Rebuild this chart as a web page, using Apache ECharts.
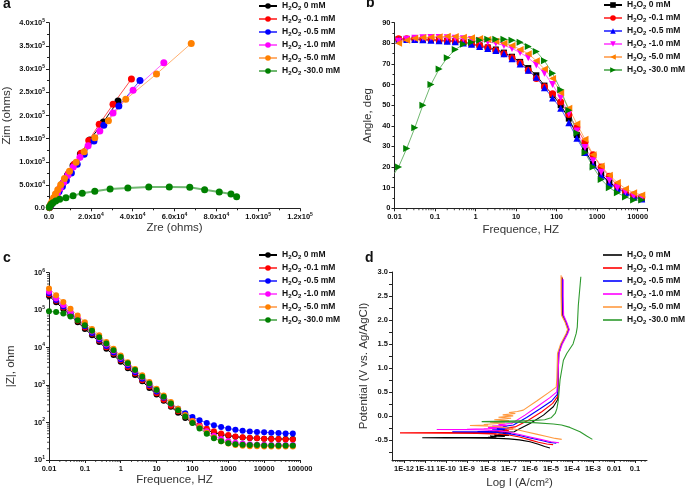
<!DOCTYPE html>
<html><head><meta charset="utf-8">
<script src="https://cdn.jsdelivr.net/npm/echarts@6/dist/echarts.min.js"></script>
<style>html,body{margin:0;padding:0;background:#fff}#c{width:685px;height:491px}</style>
</head><body><div id="c"></div>
<script>
// ---------- shared ----------
const concLabels = ['0', '-0.1', '-0.5', '-1.0', '-5.0', '-30.0'];
const markColors = ['#000000', '#FF0000', '#0000FF', '#FF00FF', '#FF8000', '#008000'];
const lineColors = ['#000000', '#FF5050', '#5050FF', '#FF66FF', '#FFB070', '#70B870'];
const tafelColors = ['#000000', '#FF0000', '#0000FF', '#FF00FF', '#FF9A40', '#2E9A2E'];

// ---------- panel a : Nyquist (Zre, Zim) ----------
const nyq0 = [[200,1500],[400,3500],[700,6000],[1000,8500],[1400,12000],[2000,17000],[2800,23000],[3800,31000],[5000,41000],[6600,54000],[8800,71000],[11500,92000],[15000,117000],[19500,147000],[26000,186000],[33000,231000]];
const nyq01 = [[300,2500],[600,5000],[1000,8500],[1500,12500],[2200,18000],[3100,25000],[4200,34000],[5500,45000],[7200,58000],[9300,75000],[12000,95000],[15300,118500],[19000,146000],[24000,181000],[30600,224000],[39400,278600]];
const nyq05 = [[400,2800],[700,5500],[1200,9000],[1800,13500],[2600,19500],[3600,27000],[4800,36000],[6400,47000],[8300,60000],[10700,76000],[13500,95000],[16800,116300],[21500,145000],[26200,178800],[33400,220400],[43500,275700]];
const nyq1 = [[400,3200],[800,6500],[1300,11000],[2000,17000],[2900,24000],[4000,33000],[5300,43000],[7000,56000],[9000,71000],[11600,89000],[14800,110000],[18700,135000],[24300,166600],[30600,205300],[40200,254200],[54900,313800]];
const nyq5 = [[200,2500],[500,5500],[900,10000],[1500,16000],[2200,23000],[3100,31000],[4200,40000],[5600,51000],[7400,64000],[9800,80000],[13000,99000],[16800,122100],[21900,152200],[28400,188800],[36700,234800],[51400,289400],[68000,355400]];
const nyq30 = [[160,2200],[500,5000],[1100,8600],[1900,12200],[3200,15800],[5100,19400],[8100,23000],[11500,27300],[15900,32300],[21900,36600],[29200,41600],[37700,43800],[47700,46000],[57500,46000],[67300,45200],[74400,40200],[81400,35200],[87000,30900],[89700,25100]];
const nyqAll = [nyq0, nyq01, nyq05, nyq1, nyq5, nyq30];

// ---------- panel b : Bode phase ----------
const freqB = [0.0126,0.02,0.0316,0.0501,0.0794,0.126,0.2,0.316,0.501,0.794,1.26,2,3.16,5.01,7.94,12.6,20,31.6,50.1,79.4,126,200,316,501,794,1260,2000,3160,5010,7940,12600];
const phase0  = [82,82,82,81.8,81.7,81.5,81.2,81,80.5,79.8,79,78,77,75.5,73.5,71,68,64.5,59.5,55,50,43.5,35.5,28,21.5,16.5,12.5,10,7.5,5.5,4.5];
const phase01 = [82.2,82.2,82.2,82,81.8,81.5,81.3,81,80.5,79.8,79,78,76.5,75,73,70.5,67,63,59,55.5,51.5,45.5,39,32,26,20,15.5,11,8,6.5,5.5];
const phase05 = [81.5,81.8,81.8,81.7,81.5,81.3,81,80.8,80.2,79.5,78.5,77.5,76.5,75,72.5,70,67,63.5,58.5,53.5,48.5,41.5,34,27,21,16,12,9.5,7.5,5.5,4.5];
const phase1  = [81,82,82.5,82.7,82.8,82.8,82.7,82.5,82.2,81.8,81.3,80.7,80,79,77.5,75.5,73,69.5,65.5,60,53.5,46,37.5,29.5,23,17.5,13.5,10,8,6,5];
const phase5  = [80,81.5,82.5,82.8,83,83.2,83.4,83.3,83,82.7,82.3,81.8,81,80,79,77,75,71.5,67.5,63,56,48.5,41,33.5,26,20.5,16,12.5,9.5,7.5,6.5];
const phase30 = [20,29,39,50,60,67.5,73,77,79.5,80.5,81.5,82,82,82,81.5,80.5,78.5,76,71.5,65.5,57.5,47.5,36.5,27,20,14,10,7.5,5.5,4,4];
const phase30Start = [0.01, 17];
const phaseAll = [phase0, phase01, phase05, phase1, phase5, phase30];
const symbolsB = ['rect','circle','triangle','triangle','triangle','triangle'];
const rotB = [0,0,0,180,90,-90];

// ---------- panel c : Bode |Z| (log10 of ohm values) ----------
const freqC = [0.01,0.0158,0.0251,0.0398,0.0631,0.1,0.158,0.251,0.398,0.631,1,1.58,2.51,3.98,6.31,10,15.8,25.1,39.8,63.1,100,158,251,398,631,1000,1580,2510,3980,6310,10000,15800,25100,39800,63100];
const logZ0  = [5.38,5.21,5.03,4.86,4.68,4.50,4.33,4.15,3.97,3.80,3.62,3.45,3.27,3.10,2.92,2.75,2.58,2.42,2.26,2.12,2.00,1.89,1.80,1.73,1.68,1.65,1.62,1.60,1.59,1.58,1.57,1.57,1.56,1.56,1.56];
const logZ01 = [5.42,5.25,5.07,4.90,4.72,4.54,4.37,4.19,4.01,3.84,3.66,3.48,3.31,3.13,2.96,2.78,2.61,2.45,2.30,2.16,2.04,1.93,1.84,1.77,1.71,1.67,1.63,1.61,1.59,1.58,1.57,1.56,1.56,1.55,1.55];
const logZ05 = [5.45,5.27,5.10,4.92,4.75,4.57,4.39,4.22,4.04,3.87,3.69,3.52,3.34,3.17,3.00,2.83,2.66,2.51,2.37,2.25,2.15,2.06,1.99,1.93,1.88,1.84,1.81,1.78,1.76,1.75,1.74,1.73,1.72,1.71,1.71];
const logZ1  = [5.49,5.31,5.14,4.96,4.79,4.61,4.43,4.26,4.08,3.91,3.73,3.56,3.38,3.21,3.03,2.86,2.68,2.51,2.35,2.19,2.04,1.90,1.77,1.65,1.56,1.50,1.46,1.44,1.42,1.41,1.41,1.40,1.40,1.40,1.40];
const logZ5  = [5.58,5.40,5.22,5.04,4.86,4.68,4.50,4.33,4.15,3.97,3.79,3.61,3.43,3.26,3.08,2.90,2.72,2.55,2.37,2.20,2.04,1.88,1.73,1.60,1.50,1.44,1.40,1.38,1.37,1.37,1.36,1.36,1.36,1.36,1.36];
const logZ30 = [4.97,4.95,4.91,4.83,4.73,4.60,4.45,4.28,4.11,3.93,3.75,3.58,3.40,3.22,3.04,2.87,2.69,2.51,2.33,2.16,1.99,1.84,1.70,1.58,1.50,1.45,1.42,1.41,1.40,1.40,1.39,1.39,1.39,1.39,1.39];
const logZAll = [logZ0, logZ01, logZ05, logZ1, logZ5, logZ30];

// ---------- panel d : Tafel  [log10 I, potential V] ----------
const tafel0 = [[-5.05,-0.67],[-5.3,-0.64],[-5.6,-0.59],[-6.0,-0.54],[-6.5,-0.50],[-7.0,-0.48],[-7.5,-0.47],[-8.0,-0.465],[-9.0,-0.46],[-10.0,-0.458],[-11.13,-0.455],[-10.0,-0.45],[-9.0,-0.45],[-8.0,-0.448],[-7.6,-0.44],[-7.9,-0.42],[-7.2,-0.43],[-7.7,-0.40],[-7.0,-0.41],[-7.5,-0.38],[-6.9,-0.37],[-7.3,-0.35],[-6.75,-0.33],[-6.63,-0.30],[-6.0,-0.16],[-5.36,0.015],[-4.89,0.19],[-4.68,0.34],[-4.66,0.8],[-4.63,1.3],[-4.5,1.5],[-4.25,1.72],[-4.18,1.8],[-4.3,1.95],[-4.45,2.1],[-4.47,2.5],[-4.47,2.88]];
const tafel01 = [[-4.9,-0.60],[-5.2,-0.585],[-5.6,-0.55],[-6.0,-0.50],[-6.5,-0.44],[-7.0,-0.40],[-7.5,-0.38],[-8.5,-0.365],[-10.0,-0.36],[-12.19,-0.355],[-10.0,-0.35],[-8.5,-0.35],[-7.6,-0.35],[-7.9,-0.33],[-7.2,-0.34],[-7.7,-0.31],[-7.0,-0.31],[-7.4,-0.28],[-6.8,-0.27],[-7.1,-0.25],[-6.71,-0.23],[-6.08,-0.09],[-5.44,0.085],[-4.92,0.26],[-4.69,0.40],[-4.67,0.8],[-4.64,1.3],[-4.5,1.5],[-4.25,1.72],[-4.18,1.8],[-4.3,1.95],[-4.46,2.1],[-4.48,2.5],[-4.48,2.9]];
const tafel05 = [[-4.75,-0.57],[-5.1,-0.55],[-5.5,-0.51],[-6.0,-0.46],[-6.5,-0.41],[-7.0,-0.37],[-7.5,-0.345],[-8.5,-0.335],[-9.7,-0.33],[-8.5,-0.325],[-8.0,-0.32],[-7.5,-0.31],[-7.8,-0.29],[-7.2,-0.29],[-7.6,-0.26],[-7.0,-0.25],[-7.3,-0.22],[-6.79,-0.19],[-6.16,-0.034],[-5.52,0.15],[-4.97,0.31],[-4.70,0.45],[-4.68,0.8],[-4.65,1.3],[-4.5,1.5],[-4.23,1.72],[-4.16,1.8],[-4.28,1.95],[-4.43,2.1],[-4.45,2.5],[-4.45,2.85]];
const tafel1 = [[-4.62,-0.56],[-5.0,-0.54],[-5.5,-0.49],[-6.0,-0.44],[-6.5,-0.39],[-7.0,-0.34],[-7.5,-0.31],[-8.5,-0.29],[-10.44,-0.285],[-9.0,-0.28],[-8.2,-0.27],[-7.6,-0.26],[-8.0,-0.24],[-7.3,-0.24],[-7.8,-0.21],[-7.1,-0.20],[-7.5,-0.18],[-6.87,-0.16],[-6.24,0.015],[-5.60,0.21],[-5.05,0.38],[-4.72,0.50],[-4.67,0.8],[-4.62,1.3],[-4.46,1.5],[-4.2,1.72],[-4.13,1.8],[-4.25,1.95],[-4.4,2.1],[-4.42,2.5],[-4.42,2.85]];
const tafel5 = [[-4.49,-0.49],[-4.8,-0.47],[-5.2,-0.43],[-5.7,-0.38],[-6.2,-0.33],[-6.7,-0.28],[-7.2,-0.24],[-7.8,-0.215],[-8.86,-0.20],[-8.0,-0.19],[-8.2,-0.18],[-7.2,-0.15],[-7.9,-0.13],[-7.0,-0.10],[-7.7,-0.08],[-6.9,-0.05],[-7.5,-0.03],[-6.8,0.0],[-7.3,0.02],[-6.7,0.05],[-7.0,0.07],[-6.6,0.09],[-6.32,0.12],[-5.68,0.31],[-5.13,0.48],[-4.75,0.60],[-4.72,0.8],[-4.69,1.3],[-4.54,1.5],[-4.28,1.72],[-4.21,1.8],[-4.33,1.95],[-4.5,2.1],[-4.52,2.5],[-4.52,2.93]];
const tafel30 = [[-3.03,-0.49],[-3.3,-0.42],[-3.62,-0.33],[-4.1,-0.24],[-4.5,-0.19],[-4.89,-0.17],[-5.84,-0.14],[-6.8,-0.13],[-8.3,-0.12],[-7.0,-0.11],[-6.0,-0.10],[-5.3,-0.08],[-5.0,-0.04],[-4.8,0.05],[-4.72,0.15],[-4.65,0.33],[-4.57,0.75],[-4.41,1.16],[-4.25,1.3],[-3.95,1.5],[-3.8,1.72],[-3.85,1.76],[-3.75,1.85],[-3.7,2.3],[-3.58,2.9]];
const tafelAll = [tafel0, tafel01, tafel05, tafel1, tafel5, tafel30];

// ---------- tick labels ----------
const freqTickLabels = ['0.01','0.1','1','10','100','1000','10000','100000'];   // 1e-2 .. 1e5
const currentTickValues = [-12,-11,-10,-9,-8,-7,-6,-5,-4,-3,-2,-1];
const currentTickLabels = ['1E-12','1E-11','1E-10','1E-9','1E-8','1E-7','1E-6','1E-5','1E-4','1E-3','0.01','0.1'];
const potentialTickValues = [-0.5,0,0.5,1.0,1.5,2.0,2.5,3.0];
const potentialMinorValues = [-0.75,-0.5,-0.25,0,0.25,0.5,0.75,1.0,1.25,1.5,1.75,2.0,2.25,2.5,2.75,3.0];

// ---------- styling helpers ----------
const F = '"Liberation Sans", Arial, sans-serif';
const TXT = '#111';
const AX = '#222';
const richTick = {
  n: {fontSize: 7.5, fontWeight: 'bold', color: TXT, fontFamily: F, lineHeight: 10},
  e: {fontSize: 5, fontWeight: 'bold', color: TXT, fontFamily: F, lineHeight: 5, verticalAlign: 'top'}
};
const richLegend = {
  t: {fontSize: 8.5, fontWeight: 'bold', color: TXT, fontFamily: F, lineHeight: 11},
  s: {fontSize: 6, fontWeight: 'bold', color: TXT, fontFamily: F, lineHeight: 5, verticalAlign: 'bottom'}
};
function sciLabel(v) {
  if (v === 0) return '{n|0.0}';
  const e = Math.floor(Math.log10(v) + 1e-9);
  const m = v / Math.pow(10, e);
  return '{n|' + m.toFixed(1) + 'x10}{e|' + e + '}';
}
function decade(v) {
  const e = Math.log10(v); const r = Math.round(e);
  return Math.abs(e - r) > 1e-6 ? null : r;
}
function axisBase(o) {
  const a = {
    gridIndex: o.grid, type: o.type || 'value',
    min: o.min, max: o.max,
    axisLine: {show: true, onZero: false, lineStyle: {color: AX, width: 1}},
    axisTick: {show: true, length: 3, inside: false, lineStyle: {color: AX, width: 1}},
    minorTick: {show: !!o.minor, splitNumber: o.minor || 0, length: 2, lineStyle: {color: AX, width: 1}},
    splitLine: {show: false}, minorSplitLine: {show: false},
    axisLabel: {fontSize: 7.5, fontWeight: 'bold', color: TXT, fontFamily: F, margin: 4, rich: richTick, formatter: o.fmt},
    name: o.name, nameLocation: 'middle', nameGap: o.gap,
    nameTextStyle: {fontSize: 11.5, color: '#333', fontFamily: F}
  };
  if (o.interval) a.interval = o.interval;
  if (o.logBase) a.logBase = o.logBase;
  if (o.labelValues) a.axisLabel.customValues = o.labelValues;
  if (o.tickValues) a.axisTick.customValues = o.tickValues;
  return a;
}
function legendFmt(name) {
  const i = +name.slice(1);
  return '{t|H}{s|2}{t|O}{s|2}{t| ' + concLabels[i] + ' mM}';
}
function mkLegend(p, left, top, w, lineOnly) {
  const l = {
    data: [0,1,2,3,4,5].map(i => p + i), orient: 'vertical', left: left, top: top,
    padding: 0, itemGap: 3, itemWidth: w, itemHeight: 7, selectedMode: false,
    formatter: legendFmt, textStyle: {rich: richLegend}
  };
  if (lineOnly) { l.icon = 'rect'; l.itemHeight = 1.6; }
  return l;
}
function tickSeries(gi, pts, size, offset) {
  return {type: 'scatter', xAxisIndex: gi, yAxisIndex: gi, data: pts, symbol: 'rect',
    symbolSize: size, symbolOffset: offset, itemStyle: {color: AX}, silent: true,
    clip: false, animation: false, z: 1};
}

// minor tick positions for log-type axes (2..9 x 10^k)
const minorB = [], minorCx = [], minorCy = [], minorD = [];
for (let e = -2; e <= 4; e++) for (let k = 2; k <= 9; k++) {
  const v = k * Math.pow(10, e);
  if (v < 17000) minorB.push([v, 0]);
  if (v < 100000) minorCx.push([v, 10]);
}
for (let e = 1; e <= 5; e++) for (let k = 2; k <= 9; k++) minorCy.push([0.01, k * Math.pow(10, e)]);
for (let e = -13; e <= -1; e++) for (let k = 2; k <= 9; k++) {
  const v = e + Math.log10(k);
  if (v > -12.57 && v < -0.43) minorD.push([v, -0.92]);
}

// ---------- series ----------
const series = [];
nyqAll.forEach((d, i) => series.push({
  type: 'line', name: 'a' + i, xAxisIndex: 0, yAxisIndex: 0, data: d,
  symbol: 'circle', symbolSize: 7, itemStyle: {color: markColors[i], borderWidth: 0},
  lineStyle: {color: lineColors[i], width: i === 5 ? 2 : 1}, animation: false, z: 3
}));
phaseAll.forEach((d, i) => {
  const data = freqB.map((f, j) => [f, d[j]]);
  if (i === 5) data.unshift({value: phase30Start, symbol: 'none'});
  series.push({
    type: 'line', name: 'b' + i, xAxisIndex: 1, yAxisIndex: 1, data: data,
    symbol: symbolsB[i], symbolSize: i === 0 ? 6 : 7, symbolRotate: rotB[i],
    itemStyle: {color: markColors[i], borderWidth: 0},
    lineStyle: {color: lineColors[i], width: 1}, animation: false, z: 3
  });
});
logZAll.forEach((d, i) => series.push({
  type: 'line', name: 'c' + i, xAxisIndex: 2, yAxisIndex: 2,
  data: freqC.map((f, j) => [f, Math.pow(10, d[j])]),
  symbol: 'circle', symbolSize: 6, itemStyle: {color: markColors[i], borderWidth: 0},
  lineStyle: {color: lineColors[i], width: 1}, animation: false, z: 3
}));
tafelAll.forEach((d, i) => series.push({
  type: 'line', name: 'd' + i, xAxisIndex: 3, yAxisIndex: 3, data: d,
  symbol: 'none', itemStyle: {color: tafelColors[i]},
  lineStyle: {color: tafelColors[i], width: 1.1},
  animation: false, z: 3
}));
series.push(tickSeries(1, minorB, [1, 2], [0, 1]));
series.push(tickSeries(2, minorCx, [1, 2], [0, 1]));
series.push(tickSeries(2, minorCy, [2, 1], [-1, 0]));
series.push(tickSeries(3, minorD, [1, 2], [0, 1]));

const option = {
  animation: false,
  backgroundColor: '#fff',
  textStyle: {fontFamily: F},
  title: [
    {text: 'a', left: 3, top: -3, padding: 0, textStyle: {fontSize: 14, fontWeight: 'bold', color: '#111', fontFamily: F}},
    {text: 'b', left: 366, top: -4, padding: 0, textStyle: {fontSize: 14, fontWeight: 'bold', color: '#111', fontFamily: F}},
    {text: 'c', left: 3, top: 251, padding: 0, textStyle: {fontSize: 14, fontWeight: 'bold', color: '#111', fontFamily: F}},
    {text: 'd', left: 365, top: 251, padding: 0, textStyle: {fontSize: 14, fontWeight: 'bold', color: '#111', fontFamily: F}}
  ],
  grid: [
    {left: 49, top: 22.7, width: 251, height: 185.6},
    {left: 394.5, top: 22.7, width: 252.5, height: 185.6},
    {left: 49, top: 272.7, width: 251, height: 187.3},
    {left: 392, top: 272, width: 255, height: 188}
  ],
  xAxis: [
    axisBase({grid: 0, min: 0, max: 120000, interval: 20000, minor: 2, fmt: sciLabel, name: 'Zre (ohms)', gap: 14}),
    axisBase({grid: 1, type: 'log', logBase: 10, min: 0.01, max: 17000, name: 'Frequence, HZ', gap: 16,
      fmt: v => { const r = decade(v); return r === null ? '' : '{n|' + freqTickLabels[r + 2] + '}'; }}),
    axisBase({grid: 2, type: 'log', logBase: 10, min: 0.01, max: 100000, name: 'Frequence, HZ', gap: 11,
      fmt: v => { const r = decade(v); return r === null ? '' : '{n|' + freqTickLabels[r + 2] + '}'; }}),
    axisBase({grid: 3, min: -12.57, max: -0.43, name: 'Log I (A/cm\u00B2)', gap: 17,
      labelValues: currentTickValues, tickValues: currentTickValues,
      fmt: v => '{n|' + currentTickLabels[currentTickValues.indexOf(Math.round(v))] + '}'})
  ],
  yAxis: [
    axisBase({grid: 0, min: 0, max: 400000, interval: 50000, minor: 2, fmt: sciLabel, name: 'Zim (ohms)', gap: 36}),
    axisBase({grid: 1, min: 0, max: 90, interval: 10, minor: 2, fmt: v => '{n|' + v + '}', name: 'Angle, deg', gap: 21}),
    axisBase({grid: 2, type: 'log', logBase: 10, min: 10, max: 1000000, name: '|Z|, ohm', gap: 32,
      fmt: v => { const r = decade(v); return r === null ? '' : '{n|10}{e|' + r + '}'; }}),
    axisBase({grid: 3, min: -0.92, max: 3.0, name: 'Potential (V vs. Ag/AgCl)', gap: 22,
      labelValues: potentialTickValues, tickValues: potentialMinorValues,
      fmt: v => '{n|' + v.toFixed(1) + '}'})
  ],
  legend: [mkLegend('a', 258, 1.5, 18), mkLegend('b', 603, 0.5, 18), mkLegend('c', 258, 250.5, 18), mkLegend('d', 603, 250.5, 19, true)],
  series: series
};
const chart = echarts.init(document.getElementById('c'), null, {width: 685, height: 491, devicePixelRatio: 1});
chart.setOption(option);
</script>
</body></html>
